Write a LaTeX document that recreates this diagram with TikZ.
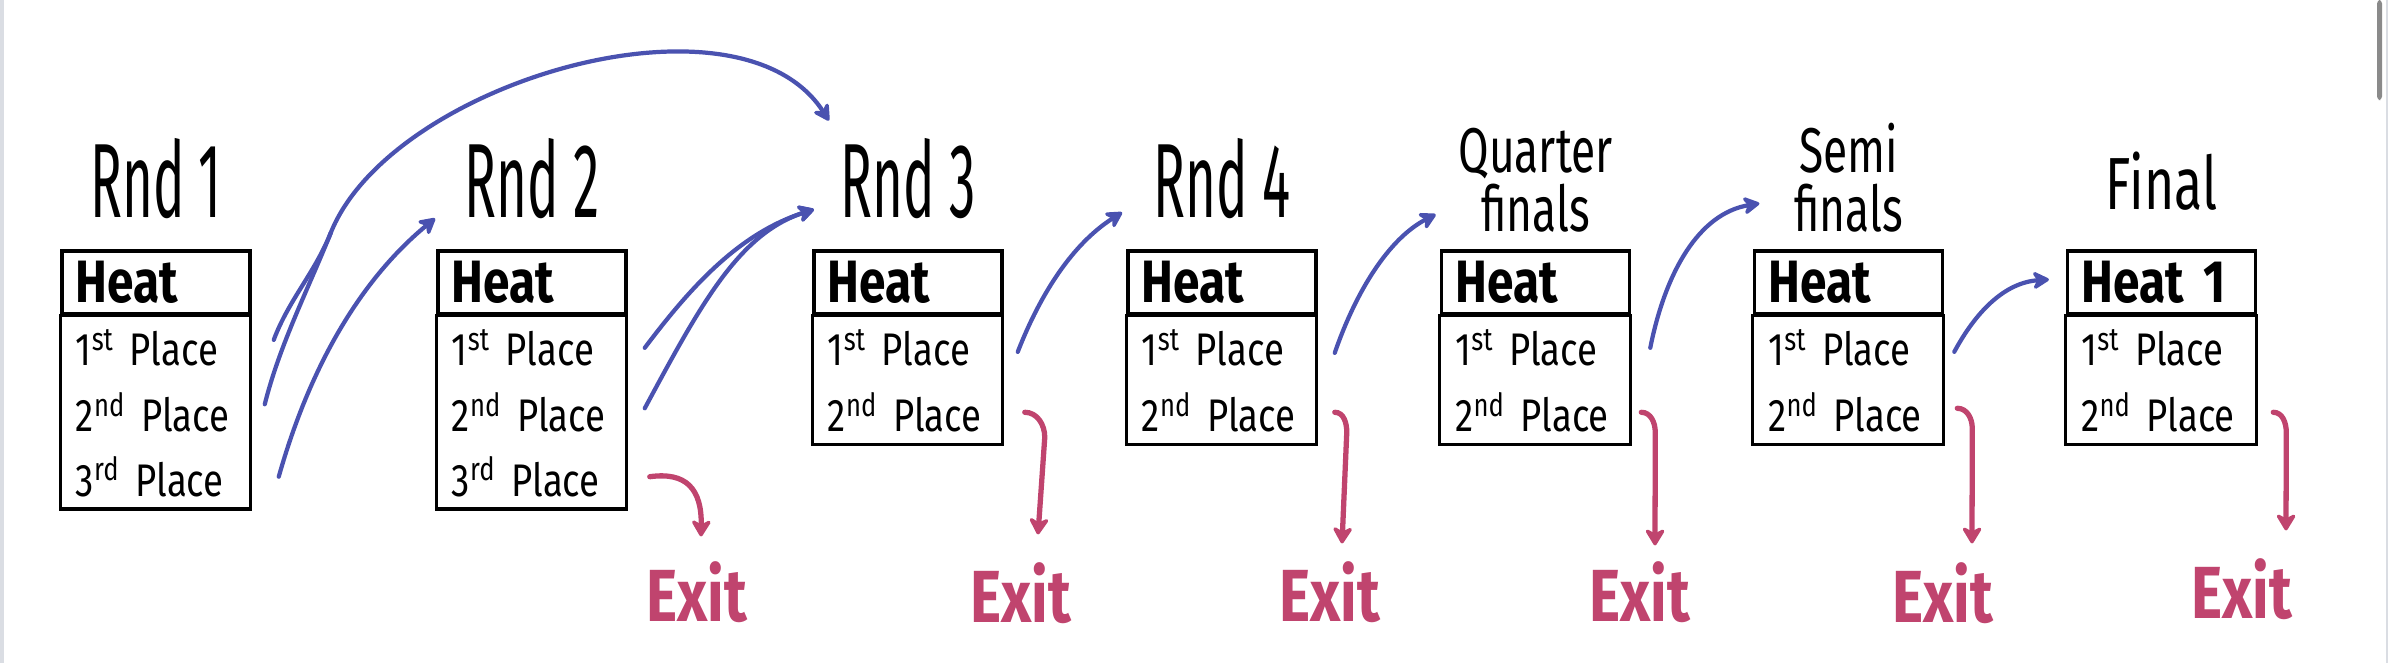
\documentclass[tikz,border=0pt]{standalone}
\usepackage{fontspec}
\setmainfont[FakeStretch=0.8]{Fira Sans}
\newfontfamily\handfont[FakeStretch=0.5]{Fira Sans}
\newfontfamily\stagefont[FakeStretch=0.7]{Fira Sans}
\usetikzlibrary{calc, positioning, arrows.meta}

\definecolor{advblue}{HTML}{4A52B0}
\definecolor{exitpink}{HTML}{C0446E}
\definecolor{edgegray}{HTML}{DADDE3}
\definecolor{bargray}{HTML}{8A8A8A}

\tikzset{
  heat/.style={draw, line width=0.9pt, minimum height=0.63cm, text width=1.6cm,
    inner xsep=0.14cm, inner ysep=0pt, align=left, font=\fontsize{17}{17}\selectfont\bfseries},
  place/.style={minimum height=0.63cm, text width=1.6cm, inner xsep=0.14cm,
    inner ysep=0pt, align=left, font=\fontsize{13}{13}\selectfont},
  boxframe/.style={draw, line width=0.9pt},
  rnd/.style={inner sep=0pt, font=\handfont\fontsize{30}{30}\selectfont},
  stage/.style={inner sep=0pt, align=center, font=\stagefont\fontsize{18}{17}\selectfont},
  exitlbl/.style={inner sep=0pt, text=exitpink, font=\fontsize{21}{21}\selectfont\bfseries},
  advline/.style={advblue, line width=1.2pt, line cap=round},
  adv/.style={advline, -{Stealth[length=0.2cm, width=0.22cm, round]}},
  elim/.style={exitpink, line width=1.5pt, line cap=round, -{Stealth[length=0.2cm, width=0.24cm, round]}}
}

\begin{document}
\begin{tikzpicture}[x=0.01cm, y=-0.01cm]
    \useasboundingbox (0,0) rectangle (2388,663);

    % window edges
    \draw[edgegray, line width=1.5pt] (1,0) -- (1,663);
    \draw[edgegray, line width=0.6pt] (2387,0) -- (2387,663);
    \fill[bargray, rounded corners=1pt] (2377,0) rectangle (2382,100);

    % round 1
    \node[heat] (hd1) at (156,282.5) {Heat};
    \node[place, below=0pt of hd1] (p1a) {1\textsuperscript{st} Place};
    \node[place, below=0pt of p1a] (p1b) {2\textsuperscript{nd} Place};
    \node[place, below=0pt of p1b] (p1c) {3\textsuperscript{rd} Place};
    \draw[boxframe] (hd1.south west) rectangle (p1c.south east);
    \node[rnd, above=0.3cm of hd1] (t1) {Rnd 1};

    % round 2
    \node[heat] (hd2) at (532,282.5) {Heat};
    \node[place, below=0pt of hd2] (p2a) {1\textsuperscript{st} Place};
    \node[place, below=0pt of p2a] (p2b) {2\textsuperscript{nd} Place};
    \node[place, below=0pt of p2b] (p2c) {3\textsuperscript{rd} Place};
    \draw[boxframe] (hd2.south west) rectangle (p2c.south east);
    \node[rnd, above=0.3cm of hd2] (t2) {Rnd 2};

    % round 3
    \node[heat] (hd3) at (908,282.5) {Heat};
    \node[place, below=0pt of hd3] (p3a) {1\textsuperscript{st} Place};
    \node[place, below=0pt of p3a] (p3b) {2\textsuperscript{nd} Place};
    \draw[boxframe] (hd3.south west) rectangle (p3b.south east);
    \node[rnd, above=0.3cm of hd3] (t3) {Rnd 3};

    % round 4
    \node[heat] (hd4) at (1222,282.5) {Heat};
    \node[place, below=0pt of hd4] (p4a) {1\textsuperscript{st} Place};
    \node[place, below=0pt of p4a] (p4b) {2\textsuperscript{nd} Place};
    \draw[boxframe] (hd4.south west) rectangle (p4b.south east);
    \node[rnd, above=0.3cm of hd4] (t4) {Rnd 4};

    % quarter finals
    \node[heat] (hd5) at (1535.5,282.5) {Heat};
    \node[place, below=0pt of hd5] (p5a) {1\textsuperscript{st} Place};
    \node[place, below=0pt of p5a] (p5b) {2\textsuperscript{nd} Place};
    \draw[boxframe] (hd5.south west) rectangle (p5b.south east);
    \node[stage, above=0.16cm of hd5] (t5) {Quarter\\finals};

    % semi finals
    \node[heat] (hd6) at (1848.5,282.5) {Heat};
    \node[place, below=0pt of hd6] (p6a) {1\textsuperscript{st} Place};
    \node[place, below=0pt of p6a] (p6b) {2\textsuperscript{nd} Place};
    \draw[boxframe] (hd6.south west) rectangle (p6b.south east);
    \node[stage, above=0.16cm of hd6] (t6) {Semi\\finals};

    % final
    \node[heat] (hd7) at (2161.5,282.5) {Heat 1};
    \node[place, below=0pt of hd7] (p7a) {1\textsuperscript{st} Place};
    \node[place, below=0pt of p7a] (p7b) {2\textsuperscript{nd} Place};
    \draw[boxframe] (hd7.south west) rectangle (p7b.south east);
    \node[stage, font=\stagefont\fontsize{21}{21}\selectfont, above=0.38cm of hd7] (t7) {Final};

    % exits
    \node[exitlbl, anchor=base] (x2) at (697,621) {Exit};
    \node[exitlbl, anchor=base] (x3) at (1021,622) {Exit};
    \node[exitlbl, anchor=base] (x4) at (1330,621) {Exit};
    \node[exitlbl, anchor=base] (x5) at (1640,621) {Exit};
    \node[exitlbl, anchor=base] (x6) at (1943,622) {Exit};
    \node[exitlbl, anchor=base] (x7) at (2242,618) {Exit};

    % advancing
    \coordinate (j1) at ($(p1a.east)+(80,-115)$);
    \draw[advline] ($(p1a.east)+(23,-8)$) .. controls +(15,-40) and +(-16,40) .. (j1);
    \draw[advline] ($(p1b.east)+(14,-8)$) .. controls +(15,-60) and +(-22,55) .. (j1);
    \draw[adv] (j1) .. controls +(60,-150) and +(-90,-140) .. ($(t3.north west)+(-11,-17)$);
    \draw[adv] ($(p1c.east)+(28,0)$) .. controls +(37,-131) and +(-61,50) .. ($(t2.south west)+(-29,-1)$);
    \draw[adv] ($(p2a.east)+(18,0)$) .. controls +(46,-61) and +(-75,24) .. ($(t3.south west)+(-26,-10)$);
    \draw[adv] ($(p2b.east)+(18,-4)$) .. controls +(56,-104) and +(-75,24) .. ($(t3.south west)+(-26,-10)$);
    \draw[adv] ($(p3a.east)+(15,4)$) .. controls +(23,-59) and +(-49,31) .. ($(t4.south west)+(-31,-7)$);
    \draw[adv] ($(p4a.east)+(18,5)$) .. controls +(21,-61) and +(-47,24) .. ($(t5.south west)+(-22,-19)$);
    \draw[adv] ($(p5a.east)+(20,0)$) .. controls +(15,-75) and +(-61,10) .. ($(t6.south west)+(-34,-30)$);
    \draw[adv] ($(p6a.east)+(11,4)$) .. controls +(21,-39) and +(-45,3) .. ($(hd7.west)+(-17,-3)$);

    % eliminated
    \draw[elim] ($(p2c.east)+(23,0)$) .. controls +(36,-5) and +(1,-48) .. ($(x2.north)+(4,-24)$);
    \draw[elim] ($(p3b.east)+(22,0)$) to[out=0, in=90] ++(20,25) -- ($(x3.north)+(17,-27)$);
    \draw[elim] ($(p4b.east)+(18,0)$) to[out=0, in=90] ++(12,20) -- ($(x4.north)+(12,-17)$);
    \draw[elim] ($(p5b.east)+(11,0)$) to[out=0, in=90] ++(14,20) -- ($(x5.north)+(15,-15)$);
    \draw[elim] ($(p6b.east)+(14,-4)$) to[out=0, in=90] ++(15,20) -- ($(x6.north)+(29,-18)$);
    \draw[elim] ($(p7b.east)+(17,0)$) to[out=0, in=90] ++(13,20) -- ($(x7.north)+(44,-27)$);

\end{tikzpicture}
\end{document}
